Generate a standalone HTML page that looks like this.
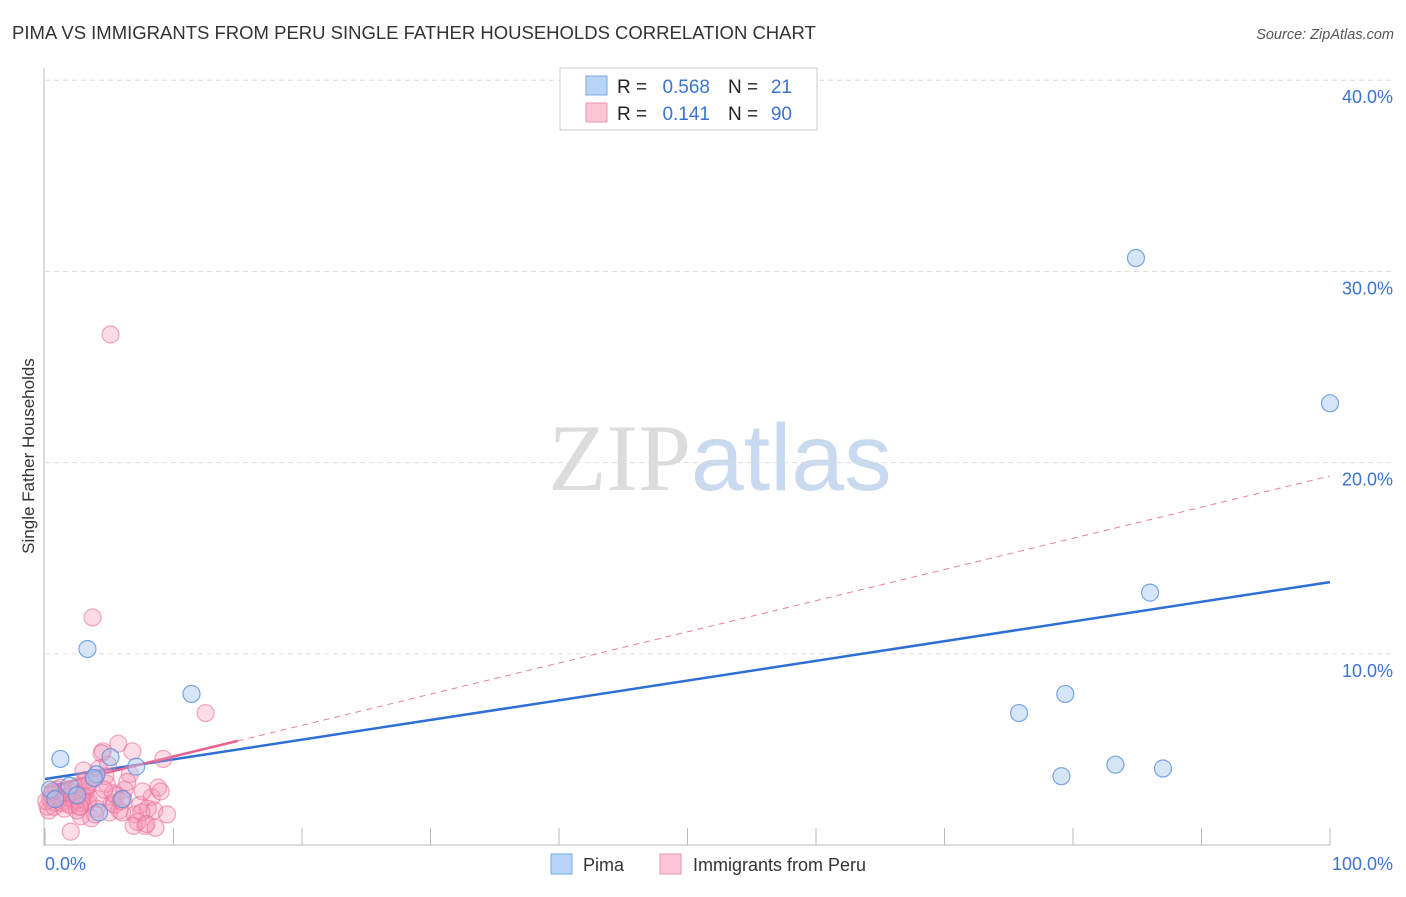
<!DOCTYPE html>
<html><head><meta charset="utf-8">
<style>
body{margin:0;background:#fff;font-family:"Liberation Sans",sans-serif;}
svg text{font-family:"Liberation Sans",sans-serif;}
</style></head>
<body>
<svg id="chart" width="1406" height="892" viewBox="0 0 1406 892" xmlns="http://www.w3.org/2000/svg">
<text x="12" y="39" font-size="18.5" fill="#333">PIMA VS IMMIGRANTS FROM PERU SINGLE FATHER HOUSEHOLDS CORRELATION CHART</text>
<text x="1394" y="39" font-size="14.5" fill="#555" text-anchor="end" font-style="italic">Source: ZipAtlas.com</text>
<text x="720" y="490" font-size="95" text-anchor="middle"><tspan fill="#dcdcdc" font-family="Liberation Serif">ZIP</tspan><tspan fill="#c9daf0">atlas</tspan></text>
<g id="grid"></g>
<g id="axes"></g>
<text transform="translate(34,456) rotate(-90)" font-size="17" fill="#333" text-anchor="middle">Single Father Households</text>
<g id="lines"></g>
<g id="pts"></g>
<g>
<rect x="560" y="68" width="257" height="62" fill="#fff" stroke="#ccc"/>
<rect x="586" y="76" width="21" height="19" fill="#b8d4f6" stroke="#7aaae6"/>
<rect x="586" y="103" width="21" height="19" fill="#fcc6d6" stroke="#ee92b0"/>
<text x="617" y="93" font-size="19" fill="#222">R =</text>
<text x="710" y="93" font-size="19" fill="#3b74d0" text-anchor="end">0.568</text>
<text x="728" y="93" font-size="19" fill="#222">N =</text>
<text x="792" y="93" font-size="19" fill="#3b74d0" text-anchor="end">21</text>
<text x="617" y="120" font-size="19" fill="#222">R =</text>
<text x="710" y="120" font-size="19" fill="#3b74d0" text-anchor="end">0.141</text>
<text x="728" y="120" font-size="19" fill="#222">N =</text>
<text x="792" y="120" font-size="19" fill="#3b74d0" text-anchor="end">90</text>
</g>
<g>
<rect x="551" y="854" width="21" height="20" fill="#b8d4f6" stroke="#7aaae6"/>
<text x="583" y="871" font-size="18" fill="#333">Pima</text>
<rect x="660" y="854" width="21" height="20" fill="#fcc6d6" stroke="#ee92b0"/>
<text x="693" y="871" font-size="18" fill="#333">Immigrants from Peru</text>
</g>
</svg>
<script>
const yTicks=[10,20,30,40];
const yTickLabels=["10.0%","20.0%","30.0%","40.0%"];
const xEndLabels=["0.0%","100.0%"];
const pimaX=[1.2,3.3,11.4,5.1,7.1,6.0,4.0,4.2,1.9,84.9,100,86.0,75.8,79.4,79.1,83.3,87.0,0.4,0.8,2.5,3.8];
const pimaY=[4.5,10.25,7.9,4.6,4.1,2.4,3.7,1.7,3.1,30.7,23.1,13.2,6.9,7.9,3.6,4.2,4.0,2.9,2.4,2.6,3.5];
const peruX=[5.1,3.7,12.5,0.2,0.4,0.6,0.8,1.0,1.2,1.4,1.6,1.8,2.0,2.2,2.4,2.6,2.8,3.0,3.2,3.4,0.3,0.5,0.7,0.9,1.1,1.3,1.5,1.7,1.9,2.1,2.3,2.5,2.7,2.9,3.1,3.3,3.5,3.9,4.2,4.5,4.8,5.2,5.5,5.8,6.2,6.6,7.0,7.4,7.8,8.3,8.8,9.2,2.8,3.0,3.3,4.0,4.4,4.7,5.0,5.3,5.7,6.1,6.4,6.8,7.2,7.6,8.0,8.5,9.0,3.6,2.0,2.5,3.2,4.1,4.6,5.4,6.0,6.9,7.5,1.0,1.5,0.1,0.6,2.7,3.9,4.9,5.9,7.9,8.6,9.5];
const peruY=[26.7,11.9,6.9,2.0,2.4,2.8,2.2,2.6,3.0,2.3,2.5,2.9,2.1,2.7,2.4,3.1,2.2,2.6,2.8,2.3,1.8,2.6,2.0,2.9,2.4,2.2,2.7,2.5,2.1,2.8,2.3,2.6,2.0,2.4,2.9,2.2,3.3,3.5,4.0,4.9,3.2,2.2,2.6,1.8,2.9,3.7,1.6,2.1,1.0,2.5,3.0,4.5,1.5,3.9,3.1,1.9,4.8,3.6,1.7,2.7,5.3,2.4,3.3,4.9,1.2,2.8,1.9,1.8,2.8,1.4,0.7,1.8,3.4,2.4,2.9,2.1,1.7,1.0,1.7,2.5,1.9,2.3,2.8,2.0,1.6,4.2,2.3,1.1,0.9,1.6];
const X0=45,X1=1330,Y0=845,PY=19.12;
function sx(v){return X0+(X1-X0)*v/100;}
function sy(v){return Y0-PY*v;}
const NS="http://www.w3.org/2000/svg";
function mk(tag,attrs,parent){const e=document.createElementNS(NS,tag);for(const k in attrs)e.setAttribute(k,attrs[k]);parent.appendChild(e);return e;}
const grid=document.getElementById('grid'),axes=document.getElementById('axes'),pts=document.getElementById('pts'),lines=document.getElementById('lines');
yTicks.forEach((t,i)=>{
 const l=mk('line',{x1:X0,x2:1393,y1:sy(t),y2:sy(t),stroke:'#ddd','stroke-dasharray':'5,4'},grid);
 
 
 const tx=mk('text',{x:1393,y:sy(t)+23,'font-size':18,fill:'#3b74d0','text-anchor':'end'},grid);
 tx.textContent=yTickLabels[i];
 
 
});
mk('line',{x1:44,x2:44,y1:68,y2:Y0+1,stroke:'#bbb'},axes);
mk('line',{x1:44,x2:1330,y1:Y0,y2:Y0,stroke:'#bbb'},axes);
for(let i=0;i<=10;i++){const t=mk('line',{x1:sx(i*10),x2:sx(i*10),y1:828,y2:Y0,stroke:'#bbb'},axes);
 
 }
const xl0=mk('text',{x:45,y:870,'font-size':18,fill:'#3b74d0'},axes);xl0.textContent=xEndLabels[0];


const xl1=mk('text',{x:1393,y:870,'font-size':18,fill:'#3b74d0','text-anchor':'end'},axes);xl1.textContent=xEndLabels[1];


peruX.forEach((x,i)=>{const c=mk('circle',{cx:sx(x),cy:sy(peruY[i]),r:8.5,fill:'rgba(246,150,183,0.33)',stroke:'rgba(232,110,150,0.6)','stroke-width':1.2},pts);
 
 });
pimaX.forEach((x,i)=>{const c=mk('circle',{cx:sx(x),cy:sy(pimaY[i]),r:8.5,fill:'rgba(164,198,240,0.45)',stroke:'rgba(90,145,220,0.8)','stroke-width':1.2},pts);
 
 });
const b=mk('line',{x1:sx(0),y1:sy(3.45),x2:sx(100),y2:sy(13.75),stroke:'#2e6fd6','stroke-width':2.5},lines);


const pd=mk('line',{x1:sx(15),y1:sy(3.0+15*0.163),x2:sx(100),y2:sy(19.3),stroke:'#e87ea3','stroke-width':1,'stroke-dasharray':'6,5'},lines);


const ps=mk('line',{x1:sx(0),y1:sy(3.0),x2:sx(15),y2:sy(3.0+15*0.163),stroke:'#e8608f','stroke-width':2.5},lines);


</script>
</body></html>
